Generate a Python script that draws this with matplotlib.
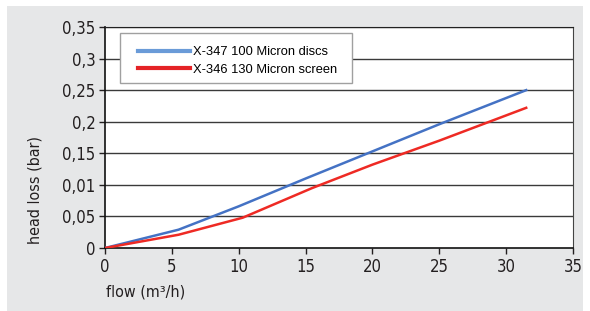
import numpy as np
import matplotlib.pyplot as plt
from matplotlib.patches import Rectangle
from matplotlib import font_manager

# flow (m3/h) vs head loss (bar)
flow_blue = [0, 5.5, 10, 15, 20, 25, 31.5]
loss_blue = [0, 0.029, 0.066, 0.110, 0.153, 0.196, 0.250]
flow_red = [0, 5.5, 10.3, 15.5, 20, 25, 31.5]
loss_red = [0, 0.021, 0.048, 0.095, 0.132, 0.170, 0.222]
label_blue = 'X-347 100 Micron discs'
label_red = 'X-346 130 Micron screen'
yticks = [0, 0.05, 0.1, 0.15, 0.2, 0.25, 0.3, 0.35]
ytick_labels = ['0', '0,05', '0,01', '0,15', '0,2', '0,25', '0,3', '0,35']
xticks = [0, 5, 10, 15, 20, 25, 30, 35]

W, H = 590, 311
cond = font_manager.FontProperties(family='DejaVu Sans', stretch='condensed', size=12)
lab = font_manager.FontProperties(family='DejaVu Sans', stretch='condensed', size=11.5)

fig = plt.figure(figsize=(W/100, H/100), dpi=100)
fig.patches.append(Rectangle((7/W, 0), 576/W, 305/H, transform=fig.transFigure,
                             facecolor='#e6e7e8', edgecolor='none', zorder=-10))
ax = fig.add_axes([105/W, 1-248/H, 468/W, 221/H])
ax.set_facecolor('white')

for y in yticks[1:]:
    ax.axhline(y, color='#3a3a3a', lw=1.0, zorder=1)

ax.plot(flow_blue, loss_blue, color='#4472c4', lw=1.8, label=label_blue, zorder=3)
ax.plot(flow_red, loss_red, color='#ee2a24', lw=1.8, label=label_red, zorder=3)

ax.set_xlim(0, 35)
ax.set_ylim(0, 0.35)
ax.set_xticks(xticks)
ax.set_xticklabels([str(x) for x in xticks], fontproperties=cond, color='#231f20')
ax.set_yticks(yticks)
ax.set_yticklabels(ytick_labels, fontproperties=cond, color='#231f20')
ax.tick_params(axis='both', direction='out', length=4, width=1, color='#231f20', pad=3)

for s in ['left', 'bottom']:
    ax.spines[s].set_color('#111111')
    ax.spines[s].set_linewidth(1.2)
ax.spines['right'].set_color('#444444')
ax.spines['top'].set_color('#222222')

fig.text(35/W, 1-244/H, 'head loss (bar)', fontproperties=lab, color='#231f20',
         rotation=90, ha='center', va='bottom')
fig.text(106/W, 1-292/H, 'flow (m³/h)', fontproperties=lab, color='#231f20',
         va='center', ha='left')

# legend box drawn separately, legend entries placed inside without frame
box = Rectangle((120/W, 1-83/H), 232/W, 50/H, transform=fig.transFigure,
                facecolor='white', edgecolor='#a0a0a0', lw=1, zorder=5, clip_on=False)
ax.add_patch(box)
leg = ax.legend(loc='upper left', bbox_to_anchor=(138/W, 1-46/H), bbox_transform=fig.transFigure,
                frameon=False, prop={'family': 'Liberation Sans', 'size': 9.3},
                handlelength=4.0, borderpad=0, labelspacing=0.42, handletextpad=0.23,
                borderaxespad=0)
leg.set_zorder(6)
for line in leg.get_lines():
    line.set_linewidth(3)
leg.get_lines()[0].set_color('#6a9bd8')
leg.get_lines()[1].set_color('#e42326')

fig.savefig('out.png', dpi=100)
